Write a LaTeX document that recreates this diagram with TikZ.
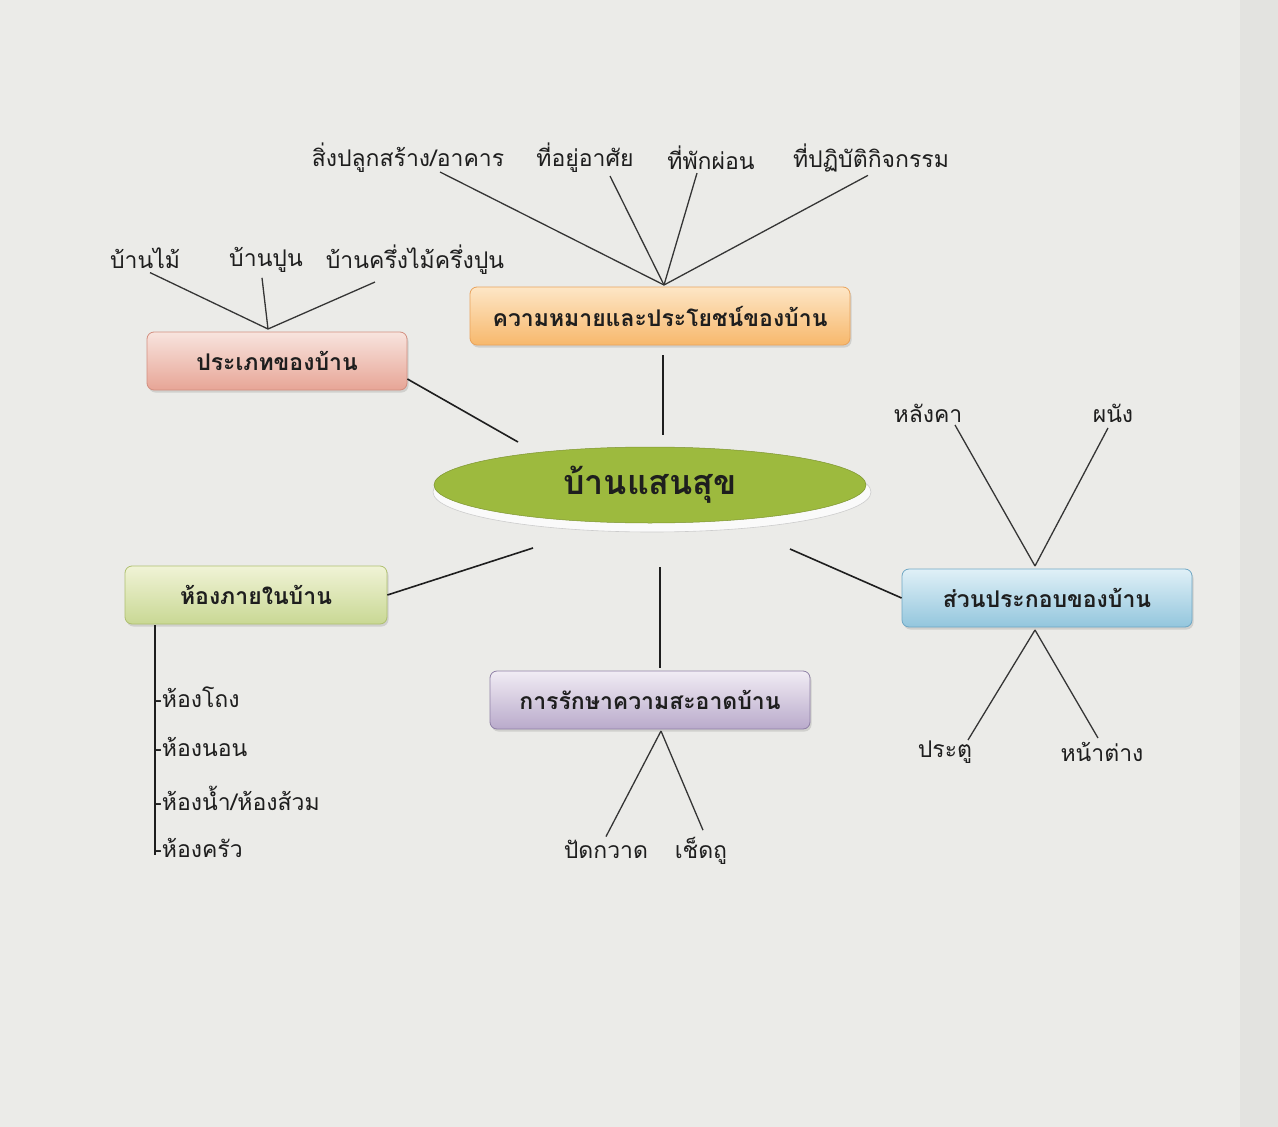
\documentclass[tikz,border=0pt]{standalone}
\usepackage{fontspec}
\setmainfont[Script=Thai]{Loma}
\usetikzlibrary{shapes.geometric,shadows}
\definecolor{paper}{HTML}{EBEBE8}
\definecolor{paperR}{HTML}{E3E3E0}
\definecolor{ink}{HTML}{1E1E1E}
\definecolor{orT}{HTML}{FDE6C6}\definecolor{orB}{HTML}{F7B86C}\definecolor{orD}{HTML}{E9A35C}
\definecolor{pkT}{HTML}{F8E4DE}\definecolor{pkB}{HTML}{E7A596}\definecolor{pkD}{HTML}{D38F80}
\definecolor{gnT}{HTML}{F0F3D6}\definecolor{gnB}{HTML}{C9D894}\definecolor{gnD}{HTML}{AFC070}
\definecolor{lvT}{HTML}{F1ECF4}\definecolor{lvB}{HTML}{B9AACB}\definecolor{lvD}{HTML}{8F80A6}
\definecolor{blT}{HTML}{E0F0F7}\definecolor{blB}{HTML}{93C6DD}\definecolor{blD}{HTML}{6FA7C4}
\definecolor{ctr}{HTML}{9DBA3E}
\begin{document}
\begin{tikzpicture}[x=1pt,y=-1pt,
  leaf/.style={font=\fontsize{23}{27}\selectfont, text=ink, inner sep=1pt},
  boxbase/.style={rounded corners=7pt, minimum height=58pt, line width=0.8pt,
     font=\bfseries\fontsize{23}{27}\selectfont, text=ink,
     drop shadow={opacity=0.25, shadow xshift=1.5pt, shadow yshift=-2.5pt}},
  orbox/.style={boxbase, draw=orD, top color=orT, bottom color=orB},
  pkbox/.style={boxbase, draw=pkD, top color=pkT, bottom color=pkB},
  gnbox/.style={boxbase, draw=gnD, top color=gnT, bottom color=gnB},
  lvbox/.style={boxbase, draw=lvD, top color=lvT, bottom color=lvB},
  blbox/.style={boxbase, draw=blD, top color=blT, bottom color=blB},
  link/.style={line width=1.6pt, draw=ink},
  thin/.style={line width=1.3pt, draw=ink!90}
]
\useasboundingbox (0,0) rectangle (1278,1127);
\fill[paper] (0,0) rectangle (1278,1127);
\fill[paperR] (1240,0) rectangle (1278,1127);

% central ellipse
\fill[white!96!gray, draw=black!20, line width=0.6pt] (652,492) ellipse [x radius=219, y radius=40];
\node[ellipse, fill=ctr, draw=ctr!80!black, line width=0.5pt, minimum width=432pt, minimum height=76pt,
  font=\bfseries\fontsize{34}{40}\selectfont, text=ink] (hub) at (650,485) {บ้านแสนสุข};

% branch boxes
\node[orbox, minimum width=380pt] (mk) at (660,316) {ความหมายและประโยชน์ของบ้าน};
\node[pkbox, minimum width=260pt] (tp) at (277,361) {ประเภทของบ้าน};
\node[gnbox, minimum width=262pt] (rm) at (256,595) {ห้องภายในบ้าน};
\node[lvbox, minimum width=320pt] (cl) at (650,700) {การรักษาความสะอาดบ้าน};
\node[blbox, minimum width=290pt] (pt) at (1047,598) {ส่วนประกอบของบ้าน};

% connector end points near the hub
\coordinate (hN) at (663,435);
\coordinate (hNW) at (518,442);
\coordinate (hSW) at (533,548);
\coordinate (hS) at (660,567);
\coordinate (hE) at (790,549);

\draw[link] ([xshift=3pt,yshift=-10pt]mk.south) -- (hN);
\draw[link] (tp.east) ++(0,18) coordinate (tpE) (tpE) -- (hNW);
\draw[link] (rm.east) -- (hSW);
\draw[link] ([xshift=10pt,yshift=3pt]cl.north) -- (hS);
\draw[link] (pt.west) -- (hE);

% meaning leaves
\node[leaf] (m1) at (408,158) {สิ่งปลูกสร้าง/อาคาร};
\node[leaf] (m2) at (585,158) {ที่อยู่อาศัย};
\node[leaf] (m3) at (711,158) {ที่พักผ่อน};
\node[leaf] (m4) at (871,158) {ที่ปฏิบัติกิจกรรม};
\coordinate (mkT) at (664,285);
\draw[thin] (440,172) coordinate (m1e) (m1e) -- (mkT);
\draw[thin] (m2.south) ++(25,2) coordinate (m2e) (m2e) -- (mkT);
\draw[thin] (m3.south) ++(-14,2) coordinate (m3e) (m3e) -- (mkT);
\draw[thin] (m4.south) ++(-3,2) coordinate (m4e) (m4e) -- (mkT);

% type leaves
\node[leaf] (t1) at (145,258) {บ้านไม้};
\node[leaf] (t2) at (266,260) {บ้านปูน};
\node[leaf] (t3) at (415,260) {บ้านครึ่งไม้ครึ่งปูน};
\coordinate (tpT) at (268,329);
\draw[thin] (t1.south) ++(5,3) coordinate (t1e) (t1e) -- (tpT);
\draw[thin] (t2.south) ++(-4,4) coordinate (t2e) (t2e) -- (tpT);
\draw[thin] (t3.south) ++(-40,6) coordinate (t3e) (t3e) -- (tpT);

% rooms
\coordinate (rmL) at (155,625);
\coordinate (rmE) at (155,855);
\draw[line width=1.3pt, draw=ink] (rmL) -- (rmE);
\node[leaf, anchor=west] (r1) at (153,697) {-ห้องโถง};
\node[leaf, anchor=west] (r2) at (153,747) {-ห้องนอน};
\node[leaf, anchor=west] (r3) at (153,798) {-ห้องน้ำ/ห้องส้วม};
\node[leaf, anchor=west] (r4) at (153,848) {-ห้องครัว};

% cleaning leaves
\node[leaf] (c1) at (606,849) {ปัดกวาด};
\node[leaf] (c2) at (701,851) {เช็ดถู};
\coordinate (clB) at (661,731);
\draw[thin] (c1.north) ++(0,-2) coordinate (c1e) (c1e) -- (clB);
\draw[thin] (c2.north) ++(2,-6) coordinate (c2e) (c2e) -- (clB);

% parts leaves
\node[leaf] (p1) at (928,413) {หลังคา};
\node[leaf] (p2) at (1113,413) {ผนัง};
\node[leaf] (p3) at (945,752) {ประตู};
\node[leaf] (p4) at (1102,752) {หน้าต่าง};
\coordinate (ptT) at (1035,566);
\coordinate (ptB) at (1035,630);
\draw[thin] (955,425) coordinate (p1e) (p1e) -- (ptT);
\draw[thin] (1108,428) coordinate (p2e) (p2e) -- (ptT);
\draw[thin] (968,740) coordinate (p3e) (p3e) -- (ptB);
\draw[thin] (1098,738) coordinate (p4e) (p4e) -- (ptB);
\end{tikzpicture}
\end{document}
